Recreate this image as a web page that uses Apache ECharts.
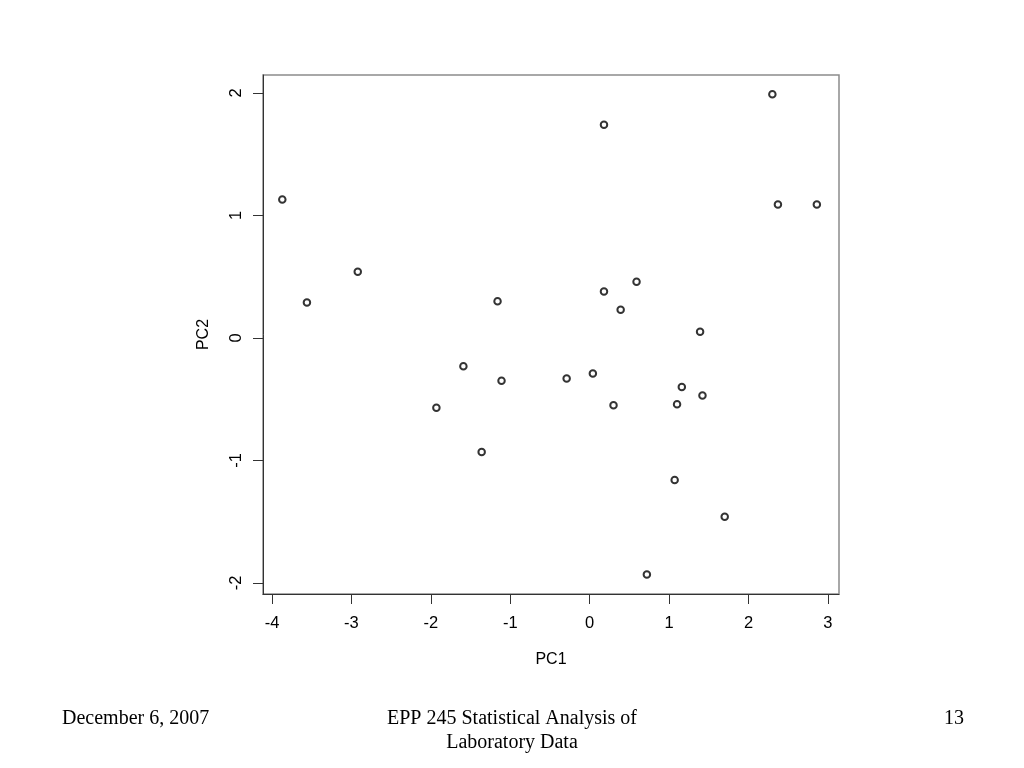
<!DOCTYPE html>
<html><head><meta charset="utf-8">
<script src="https://cdn.jsdelivr.net/npm/echarts@6/dist/echarts.min.js"></script>
<style>html,body{margin:0;background:#fff}#c{width:1024px;height:768px}</style>
</head><body><div id="c"></div>
<script>
const pc1 = [-3.87,-3.56,-2.92,-1.93,-1.59,-1.36,-1.16,-1.11,-0.29,0.04,0.18,0.18,0.30,0.39,0.59,0.72,1.07,1.10,1.16,1.39,1.42,1.70,2.30,2.37,2.86];
const pc2 = [1.13,0.29,0.54,-0.57,-0.23,-0.93,0.30,-0.35,-0.33,-0.29,1.74,0.38,-0.55,0.23,0.46,-1.93,-1.16,-0.54,-0.40,0.05,-0.47,-1.46,1.99,1.09,1.09];
const xTicks = [-4,-3,-2,-1,0,1,2,3];
const yTicks = [-2,-1,0,1,2];
const xName = 'PC1';
const yName = 'PC2';
const footLeft = 'December 6, 2007';
const footCenter = 'EPP 245 Statistical Analysis of\nLaboratory Data';
const footRight = '13';

const points = pc1.map((x, i) => [x, pc2[i]]);
const sans = 'Liberation Sans, Arial, sans-serif';
const serif = 'Liberation Serif, Times New Roman, serif';

const chart = echarts.init(document.getElementById('c'), null, {renderer: 'canvas'});
chart.setOption({
  animation: false,
  backgroundColor: '#fff',
  grid: {left: 263, top: 75, width: 576, height: 519, show: true, borderColor: '#8c8c8c', borderWidth: 1.5, backgroundColor: 'transparent'},
  xAxis: {
    type: 'value', min: -4.113, max: 3.139,
    name: xName, nameLocation: 'middle', nameGap: 58,
    nameTextStyle: {fontFamily: sans, fontSize: 16, color: '#000'},
    splitLine: {show: false},
    axisLine: {show: true, onZero: false, lineStyle: {color: '#333', width: 1}},
    axisTick: {show: true, customValues: xTicks, length: 10, lineStyle: {color: '#333'}},
    axisLabel: {customValues: xTicks, fontFamily: sans, fontSize: 16.5, color: '#000', margin: 21}
  },
  yAxis: {
    type: 'value', min: -2.09, max: 2.147,
    name: yName, nameLocation: 'middle', nameGap: 51, nameRotate: 90,
    nameTextStyle: {fontFamily: sans, fontSize: 16, color: '#000'},
    splitLine: {show: false},
    axisLine: {show: true, onZero: false, lineStyle: {color: '#333', width: 1}},
    axisTick: {show: true, customValues: yTicks, length: 10, lineStyle: {color: '#333'}},
    axisLabel: {customValues: yTicks, rotate: 90, fontFamily: sans, fontSize: 16.5, color: '#000', margin: 18}
  },
  series: [{
    type: 'scatter',
    data: points,
    symbol: 'emptyCircle',
    symbolSize: 6.5,
    itemStyle: {color: '#000', borderColor: '#222', borderWidth: 0.8}
  }],
  graphic: [
    {type: 'text', left: 62, top: 709, style: {text: footLeft, font: '20px ' + serif, fill: '#000'}},
    {type: 'text', left: 'center', top: 707, style: {text: footCenter, font: '20px ' + serif, fill: '#000', textAlign: 'center', lineHeight: 24}},
    {type: 'text', left: 944, top: 709, style: {text: footRight, font: '20px ' + serif, fill: '#000'}}
  ]
});
</script>
</body></html>
